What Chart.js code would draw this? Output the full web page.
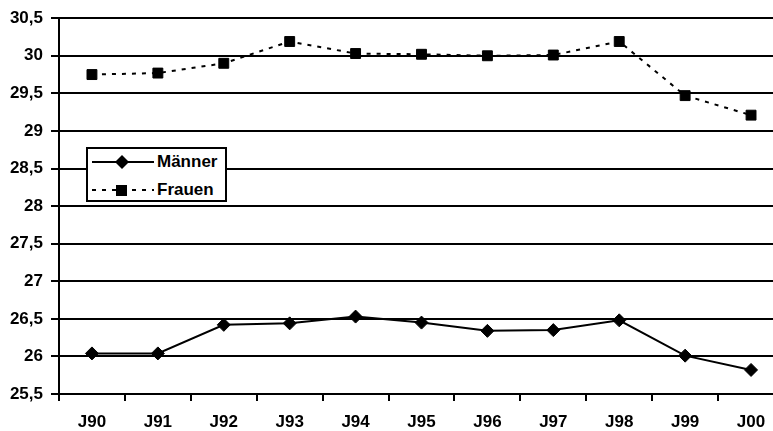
<!DOCTYPE html>
<html>
<head>
<meta charset="utf-8">
<script src="https://cdn.jsdelivr.net/npm/chart.js@4/dist/chart.umd.min.js"></script>
<style>
  html, body { margin: 0; padding: 0; background: #fff; overflow: hidden; }
  #wrap { position: relative; width: 792px; height: 431px; }
  #legend {
    position: absolute; left: 86px; top: 147px; width: 137px; height: 51px;
    border: 2px solid #000; background: #fff;
    font-family: "Liberation Sans", Arial, sans-serif; font-size: 17px; font-weight: bold; color: #000;
  }
  #legend .row { position: absolute; left: 4px; height: 22px; display: flex; align-items: center; }
  #legend svg { display: block; }
  #legend span { margin-left: 3px; }
</style>
</head>
<body>
<div id="wrap">
  <canvas id="c" width="792" height="431"></canvas>
  <div id="legend">
    <div class="row" style="top:2px">
      <svg width="62" height="22"><line x1="0" y1="11" x2="62" y2="11" stroke="#000" stroke-width="2"/><polygon points="30,4 37,11 30,18 23,11" fill="#000"/></svg>
      <span>Männer</span>
    </div>
    <div class="row" style="top:30px">
      <svg width="62" height="22"><line x1="0" y1="11" x2="62" y2="11" stroke="#000" stroke-width="2" stroke-dasharray="4,6"/><rect x="24" y="6" width="11" height="11" fill="#000"/></svg>
      <span>Frauen</span>
    </div>
  </div>
</div>
<script>
const categories = ['J90', 'J91', 'J92', 'J93', 'J94', 'J95', 'J96', 'J97', 'J98', 'J99', 'J00'];
const maenner = [26.04, 26.04, 26.42, 26.44, 26.53, 26.45, 26.34, 26.35, 26.48, 26.01, 25.82];
const frauen = [29.75, 29.77, 29.90, 30.19, 30.03, 30.02, 30.00, 30.01, 30.19, 29.47, 29.21];
const yMin = 25.5, yMax = 30.5, yStep = 0.5;

const font = { family: '"Liberation Sans", Arial, sans-serif', size: 17, weight: 'bold' };

new Chart(document.getElementById('c'), {
  type: 'line',
  data: {
    labels: categories,
    datasets: [
      {
        label: 'Männer', data: maenner,
        borderColor: '#000', borderWidth: 2, backgroundColor: '#000',
        pointStyle: 'rectRot', pointRadius: 6.5, pointBorderWidth: 1,
        pointBackgroundColor: '#000', pointBorderColor: '#000', tension: 0
      },
      {
        label: 'Frauen', data: frauen,
        borderColor: '#000', borderWidth: 2, borderDash: [4, 6], backgroundColor: '#000',
        pointStyle: 'rect', pointRadius: 7, pointBorderWidth: 1,
        pointBackgroundColor: '#000', pointBorderColor: '#000', tension: 0
      }
    ]
  },
  options: {
    responsive: false, animation: false,
    layout: { padding: { top: 16, right: 2, left: 0, bottom: 0 } },
    plugins: { legend: { display: false }, tooltip: { enabled: false } },
    scales: {
      x: {
        offset: true,
        grid: { display: true, offset: true, drawOnChartArea: false, color: '#000', lineWidth: 2, tickLength: 7, tickColor: '#000' },
        border: { display: true, color: '#000', width: 2 },
        ticks: { color: '#000', font: font, padding: 11, maxRotation: 0, autoSkip: false },
        afterFit: s => { s.height = 37; }
      },
      y: {
        min: yMin, max: yMax,
        grid: { color: '#000', lineWidth: 2, tickLength: 8, tickColor: '#000' },
        border: { display: true, color: '#000', width: 2 },
        ticks: {
          stepSize: yStep, color: '#000', font: font, padding: 8,
          callback: v => String(Math.round(v * 10) / 10).replace('.', ',')
        },
        afterFit: s => { s.width = 59; }
      }
    }
  }
});
</script>
</body>
</html>
